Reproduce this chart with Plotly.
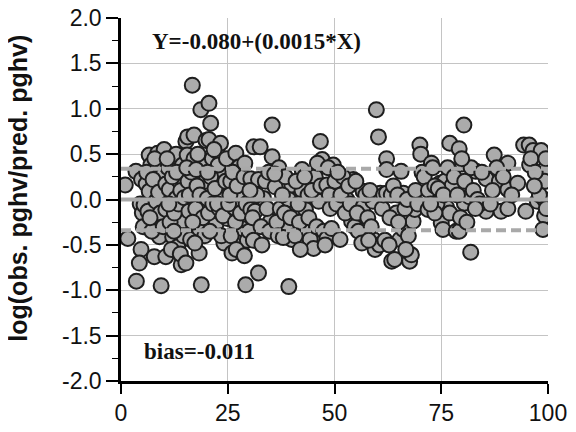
import plotly.graph_objects as go

# ---- data ----
x_vals = [
    1.0, 1.6, 3.5, 3.6, 4.7, 4.3, 4.8, 4.5, 5.0, 5.2,
    5.4, 5.9, 6.3, 6.6, 6.6, 7.0, 7.8, 8.2, 8.2, 8.6, 9.0, 9.4, 9.8, 10.1, 6.0, 7.2, 7.5, 8.8, 9.2, 9.6, 6.8, 7.9, 9.9,
    10.5, 10.5, 10.5, 11.3, 12.1, 12.9, 12.9, 13.3, 13.7, 14.1, 14.4, 14.4, 11.0, 11.5, 12.0, 12.5, 13.0, 13.5, 14.0, 14.6, 11.8, 10.8, 12.4, 14.8, 13.9, 11.2,
    15.2, 15.2, 15.5, 15.6, 15.7, 15.9, 16.3, 16.7, 17.1, 17.1, 18.3, 18.3, 18.7, 18.8, 19.0, 19.4, 19.8, 16.0, 16.5, 17.5, 17.8, 18.0, 18.5, 19.2, 19.6, 16.8, 17.3, 15.4, 19.9, 17.6,
    20.2, 20.6, 20.6, 21.0, 21.4, 22.2, 22.5, 23.3, 23.7, 24.1, 24.1, 24.9, 20.5, 21.0, 21.5, 22.0, 22.8, 23.0, 23.5, 24.5, 20.8, 21.8, 22.6, 24.7, 23.9, 20.3,
    25.7, 26.0, 26.5, 26.9, 27.5, 27.7, 27.7, 28.4, 28.4, 29.2, 25.2, 25.5, 26.2, 26.8, 27.2, 28.0, 28.8, 29.3, 29.6, 25.8, 27.0, 28.9, 29.0,
    30.4, 30.4, 31.1, 31.4, 32.2, 32.2, 32.6, 33.4, 35.0, 35.4, 35.4, 30.0, 30.8, 31.8, 32.8, 33.8, 34.2, 34.6, 31.0, 33.0, 34.8, 30.2,
    36.1, 37.3, 38.9, 39.3, 39.3, 40.0, 40.0, 36.5, 37.0, 37.8, 38.3, 38.5, 36.0, 36.8, 39.7, 38.0,
    42.4, 42.4, 42.4, 43.2, 44.3, 45.1, 45.5, 46.3, 46.7, 47.1, 41.0, 41.5, 41.8, 43.0, 43.8, 44.0, 44.7, 45.8, 46.0, 40.8, 42.0, 46.8,
    47.5, 48.2, 48.2, 49.3, 49.7, 50.1, 51.3, 52.9, 54.0, 54.4, 48.8, 49.0, 50.5, 51.5, 52.0, 52.5, 53.3, 53.7, 48.5, 50.8, 47.8, 54.7,
    55.6, 56.4, 56.7, 56.7, 59.0, 59.1, 59.5, 60.3, 59.8, 60.5, 60.7, 55.0, 55.3, 57.3, 57.8, 58.3, 58.6, 61.2, 61.5, 58.0, 61.8,
    62.2, 62.2, 62.2, 63.3, 63.4, 64.1, 64.5, 65.3, 65.6, 66.1, 66.1, 67.6, 68.0, 68.4, 68.8, 63.0, 63.8, 64.8, 65.0, 66.5, 67.0, 67.3, 69.5, 62.8, 66.7, 69.0,
    70.0, 70.2, 71.9, 72.7, 74.7, 75.0, 75.4, 75.8, 76.3, 77.0, 77.5, 70.5, 71.0, 72.0, 73.0, 73.5, 74.0, 74.3, 76.5, 77.0, 73.5, 75.5, 72.5,
    78.5, 79.2, 79.2, 80.0, 80.3, 80.4, 80.8, 81.6, 81.9, 83.1, 85.5, 85.5, 78.0, 78.8, 79.5, 80.5, 81.0, 82.0, 82.5, 83.5, 84.0, 84.5, 83.0, 79.8,
    87.4, 88.6, 89.0, 90.6, 90.6, 90.6, 92.9, 94.3, 94.8, 95.6, 95.7, 96.5, 97.5, 98.4, 99.2, 99.2, 99.2, 99.2, 98.8, 86.5, 87.0, 88.0, 89.5, 91.5, 96.0, 97.0, 98.0, 99.5, 96.8, 99.6,
]
y_vals = [
    0.16, -0.43, 0.31, -0.90, -0.55, -0.70, 0.22, -0.05, -0.15, -0.30,
    -0.06, 0.17, -0.13, 0.09, 0.49, 0.38, -0.63, -0.02, -0.24, 0.51, -0.41, -0.95, 0.27, 0.55, 0.30, -0.35, 0.22, 0.08, -0.15, 0.42, -0.20, 0.45, -0.30,
    -0.11, -0.63, 0.17, 0.11, -0.41, 0.01, 0.50, -0.52, 0.20, -0.72, 0.38, -0.24, 0.35, -0.25, 0.25, -0.15, 0.30, -0.05, 0.10, -0.40, -0.55, 0.45, -0.35, 0.02, -0.60, -0.05,
    0.64, -0.70, 0.49, 0.69, 0.20, -0.13, -0.44, 1.26, 0.71, 0.45, -0.32, -0.59, 0.99, -0.94, -0.07, 0.42, 0.20, 0.05, 0.30, -0.10, 0.15, 0.50, 0.05, -0.20, -0.40, -0.25, -0.48, 0.35, 0.65, 0.33,
    0.01, 1.06, 0.66, 0.84, 0.45, -0.28, 0.53, 0.62, 0.27, 0.03, -0.48, -0.21, -0.15, 0.25, -0.05, 0.12, 0.38, -0.10, -0.40, 0.20, -0.35, 0.55, -0.05, 0.45, -0.18, 0.30,
    0.20, -0.59, -0.09, 0.51, -0.46, 0.36, 0.07, -0.32, -0.59, -0.94, -0.05, 0.05, 0.30, -0.25, 0.15, -0.15, 0.25, -0.05, -0.45, -0.40, -0.55, -0.62, 0.40,
    0.23, -0.11, 0.58, -0.13, -0.81, 0.22, 0.58, 0.01, -0.24, 0.82, 0.47, -0.35, -0.20, 0.05, -0.30, 0.20, -0.10, 0.30, -0.45, -0.50, -0.35, 0.10,
    0.14, -0.10, -0.32, -0.96, 0.00, 0.16, -0.44, -0.25, 0.35, 0.05, -0.15, 0.25, 0.28, -0.40, -0.20, -0.42,
    0.33, 0.10, -0.32, -0.11, -0.44, -0.54, 0.25, -0.02, 0.64, 0.44, 0.20, -0.05, -0.25, 0.25, 0.05, -0.20, 0.10, -0.30, 0.40, -0.40, -0.55, 0.15,
    -0.35, 0.16, -0.43, -0.32, 0.38, 0.20, -0.44, 0.00, -0.24, 0.22, 0.05, -0.10, -0.05, 0.05, 0.25, -0.15, 0.15, -0.05, 0.35, 0.30, -0.50, -0.30,
    -0.35, -0.48, 0.09, -0.08, -0.02, -0.44, -0.55, 0.69, 0.99, -0.50, 0.07, 0.20, -0.15, 0.05, -0.20, 0.10, -0.30, -0.10, 0.05, -0.45, -0.45,
    0.45, 0.33, 0.07, 0.05, -0.68, -0.66, -0.15, -0.44, 0.31, 0.07, -0.33, -0.68, -0.61, -0.24, -0.11, -0.20, 0.15, 0.05, -0.25, -0.10, 0.00, -0.40, -0.05, -0.50, -0.55, 0.10,
    0.60, 0.50, -0.11, 0.40, 0.18, -0.26, -0.33, 0.20, -0.09, 0.62, 0.15, 0.30, 0.25, 0.10, 0.35, 0.15, -0.05, 0.12, 0.35, -0.15, -0.15, 0.05, -0.05,
    -0.35, 0.56, -0.35, 0.39, 0.82, -0.04, 0.09, 0.03, -0.58, 0.31, 0.23, -0.13, 0.25, 0.05, -0.20, 0.20, -0.25, 0.35, 0.10, 0.00, -0.05, 0.30, -0.10, 0.45,
    0.49, 0.20, -0.13, 0.40, 0.11, -0.10, 0.18, 0.60, -0.13, 0.60, 0.38, 0.54, -0.02, 0.54, 0.33, 0.20, 0.00, -0.18, -0.33, -0.05, 0.10, 0.35, 0.25, 0.05, 0.45, 0.30, 0.05, 0.45, 0.15, -0.10,
]

ref_x = [0, 100]
zero_line = [0.0, 0.0]
upper_band = [0.34, 0.34]
lower_band = [-0.34, -0.34]

x_ticks = [0, 25, 50, 75, 100]
y_ticks = [-2.0, -1.5, -1.0, -0.5, 0.0, 0.5, 1.0, 1.5, 2.0]
y_tick_text = ["-2.0", "-1.5", "-1.0", "-0.5", "0.0", "0.5", "1.0", "1.5", "2.0"]

equation_text = "Y=-0.080+(0.0015*X)"
bias_text = "bias=-0.011"
y_title = "log(obs. pghv/pred. pghv)"

fig = go.Figure()

fig.add_trace(go.Scatter(
    x=x_vals, y=y_vals, mode="markers",
    marker=dict(size=15, color="#ababab", line=dict(color="#1e1e1e", width=2)),
    showlegend=False, hoverinfo="skip",
))

line_gray = "#a9a9a9"
fig.add_trace(go.Scatter(x=ref_x, y=zero_line, mode="lines",
                         line=dict(color=line_gray, width=4), showlegend=False))
fig.add_trace(go.Scatter(x=ref_x, y=upper_band, mode="lines",
                         line=dict(color=line_gray, width=4, dash="10px,5px"), showlegend=False))
fig.add_trace(go.Scatter(x=ref_x, y=lower_band, mode="lines",
                         line=dict(color=line_gray, width=4, dash="10px,5px"), showlegend=False))

tick_font = dict(family="Liberation Sans, Arial, sans-serif", size=23, color="#111")

fig.update_xaxes(
    range=[0, 100], tickvals=x_ticks, ticktext=[str(v) for v in x_ticks],
    showgrid=True, gridcolor="#c4c4c4", gridwidth=1,
    showline=True, linecolor="black", linewidth=2.5,
    ticks="outside", ticklen=10, tickwidth=1.5, tickcolor="black",
    tickfont=tick_font, zeroline=False, mirror=False, automargin=False,
    ticklabeloverflow="allow",
)
fig.update_yaxes(
    range=[-2, 2], tickvals=y_ticks, ticktext=y_tick_text,
    showgrid=True, gridcolor="#c4c4c4", gridwidth=1,
    showline=True, linecolor="black", linewidth=2.5,
    ticks="outside", ticklen=12, tickwidth=1.5, tickcolor="black",
    minor=dict(dtick=0.25, ticks="outside", ticklen=6, tickcolor="black", tickwidth=1, showgrid=False),
    tickfont=tick_font, zeroline=False, automargin=False,
    ticklabeloverflow="allow",
)

fig.add_annotation(
    text="<b>" + y_title + "</b>", xref="paper", yref="paper",
    x=-0.241, y=0.53, xanchor="center", yanchor="middle", textangle=-90, showarrow=False,
    font=dict(family="Liberation Sans, Arial, sans-serif", size=25, color="#111"),
)
fig.add_annotation(
    text="<b>" + equation_text + "</b>", xref="paper", yref="paper",
    x=0.068, y=0.934, xanchor="left", yanchor="middle", showarrow=False,
    font=dict(family="Liberation Serif, Times New Roman, serif", size=23, color="#111"),
)
fig.add_annotation(
    text="<b>" + bias_text + "</b>", xref="paper", yref="paper",
    x=0.049, y=0.080, xanchor="left", yanchor="middle", showarrow=False,
    font=dict(family="Liberation Serif, Times New Roman, serif", size=23, color="#111"),
)

# the page body adds an 8px offset, so the figure is sized/margined to compensate
fig.update_layout(
    width=568, height=424,
    margin=dict(l=113, r=28, t=10, b=51),
    plot_bgcolor="white", paper_bgcolor="white",
    showlegend=False,
)

fig.write_html("out.html")
